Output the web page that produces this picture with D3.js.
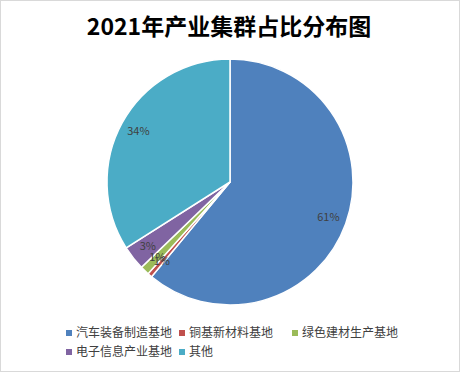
<!DOCTYPE html>
<html>
<head>
<meta charset="utf-8">
<script src="https://cdn.jsdelivr.net/npm/d3@7"></script>
<style>
  body { margin: 0; background: #fff; }
  svg { display: block; font-family: "Noto Sans CJK SC", "Microsoft YaHei", sans-serif; }
</style>
</head>
<body>
<div id="chart"></div>
<script>
// data
var categories = ["汽车装备制造基地", "铜基新材料基地", "绿色建材生产基地", "电子信息产业基地", "其他"];
var values = [61.0, 0.6, 1.2, 3.2, 34.0];
var labels = ["61%", "1%", "1%", "3%", "34%"];
var colors = ["#4f81bd", "#c0504d", "#9bbb59", "#8064a2", "#4bacc6"];

var width = 460, height = 372,
    cx = 230, cy = 182, radius = 123;

var svg = d3.select("#chart").append("svg")
    .attr("width", width)
    .attr("height", height);

svg.append("rect")
    .attr("x", 0.5).attr("y", 0.5)
    .attr("width", width - 1).attr("height", height - 1)
    .attr("fill", "#fff")
    .attr("stroke", "#d9d9d9");

svg.append("text")
    .attr("x", 229).attr("y", 35)
    .attr("text-anchor", "middle")
    .attr("font-size", 23)
    .attr("font-weight", "bold")
    .attr("fill", "#000")
    .text("2021年产业集群占比分布图");

var pie = d3.pie().sort(null).value(d => d);
var arcs = pie(values);
var arc = d3.arc().innerRadius(0).outerRadius(radius);
var labelArc = d3.arc().innerRadius(radius * 0.85).outerRadius(radius * 0.85);

var g = svg.append("g").attr("transform", "translate(" + cx + "," + cy + ")");

g.selectAll("path")
    .data(arcs)
    .enter().append("path")
    .attr("d", arc)
    .attr("fill", (d, i) => colors[i])
    .attr("stroke", "#fff")
    .attr("stroke-width", 1.5);

g.selectAll(".lbl")
    .data(arcs)
    .enter().append("text")
    .attr("class", "lbl")
    .attr("transform", d => "translate(" + labelArc.centroid(d) + ")")
    .attr("text-anchor", "middle")
    .attr("dy", "0.35em")
    .attr("font-size", 11)
    .attr("fill", "#404040")
    .text((d, i) => labels[i]);

// legend
var legendPos = [[69, 333], [182, 333], [295, 333], [69, 352], [182, 352]];
var legend = svg.selectAll(".legend")
    .data(categories)
    .enter().append("g")
    .attr("class", "legend")
    .attr("transform", (d, i) => "translate(" + legendPos[i][0] + "," + legendPos[i][1] + ")");

legend.append("rect")
    .attr("x", -3).attr("y", -3)
    .attr("width", 6).attr("height", 6)
    .attr("fill", (d, i) => colors[i]);

legend.append("text")
    .attr("x", 7).attr("dy", "0.35em")
    .attr("font-size", 12)
    .attr("fill", "#404040")
    .text(d => d);
</script>
</body>
</html>
